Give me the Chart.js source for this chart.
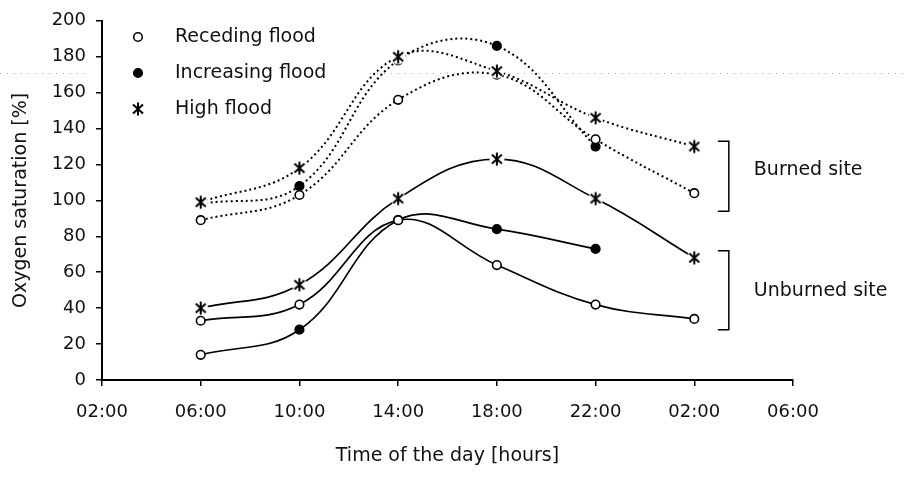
<!DOCTYPE html>
<html lang="en">
<head>
    <meta charset="UTF-8">
    <title>Oxygen saturation</title>
    <script src="https://cdn.jsdelivr.net/npm/chart.js"></script>
    <style>
        html, body { margin: 0; padding: 0; background: #fff; }
        .chart-container { position: relative; width: 905px; height: 479px; }
    </style>
</head>
<body>
    <div class="chart-container">
        <canvas id="oxygen-chart"></canvas>
    </div>

    <script>
        // sampling times in hours since midnight (26 = 02:00 next day)
        const hours = [6, 10, 14, 18, 22, 26];
        const tickLabels = ["02:00", "06:00", "10:00", "14:00", "18:00", "22:00", "02:00", "06:00"];
        const legendLabels = ["Receding flood", "Increasing flood", "High flood"];

        // burned site (dotted lines)
        const burnedReceding = [89, 103, 156, 170, 134, 104];
        const burnedIncreasing = [98, 108, 178, 186, 130, null];
        const burnedHigh = [99, 118, 180, 172, 146, 130];

        // unburned site (solid lines)
        const unburnedReceding = [33, 42, 89, 64, 42, 34];
        const unburnedIncreasing = [14, 28, 89, 84, 73, null];
        const unburnedHigh = [40, 53, 101, 123, 101, 68];

        Chart.defaults.font.family = "'DejaVu Sans', sans-serif";
        Chart.defaults.font.size = 18;
        Chart.defaults.color = "#111";

        // asterisk marker: vertical bar plus X, on a small white patch
        function makeStar() {
            const c = document.createElement("canvas");
            c.width = 16; c.height = 16;
            const g = c.getContext("2d");
            g.fillStyle = "#fff";
            g.beginPath(); g.arc(8, 8, 7.5, 0, Math.PI * 2); g.fill();
            g.strokeStyle = "#000";
            g.lineWidth = 2;
            g.beginPath();
            g.moveTo(8, 1.5); g.lineTo(8, 14.5);
            g.moveTo(3, 3.5); g.lineTo(13, 12.5);
            g.moveTo(13, 3.5); g.lineTo(3, 12.5);
            g.stroke();
            return c;
        }
        const star = makeStar();

        const toPoints = arr => hours.map((h, i) => ({ x: h, y: arr[i] }));

        function series(values, kind, dotted, fillOverride) {
            const ds = {
                data: toPoints(values),
                borderColor: "#000",
                borderWidth: dotted ? 2 : 1.7,
                borderDash: dotted ? [2, 3] : [],
                tension: 0.4,
                spanGaps: false,
                pointRadius: 4.3,
                pointBorderWidth: 1.6,
                pointBorderColor: "#000",
                pointBackgroundColor: kind === "open" ? "#fff" : "#000"
            };
            if (kind === "star") {
                ds.pointStyle = star;
            }
            if (fillOverride) ds.pointBackgroundColor = fillOverride;
            return ds;
        }

        const legendPlugin = {
            id: "cornerLegend",
            afterDraw(chart) {
                const ctx = chart.ctx;
                const kinds = ["open", "filled", "star"];
                ctx.save();
                ctx.font = "19px 'DejaVu Sans', sans-serif";
                ctx.fillStyle = "#111";
                ctx.textBaseline = "middle";
                legendLabels.forEach((label, i) => {
                    const y = 37 + i * 36;
                    const x = 138;
                    if (kinds[i] === "star") {
                        ctx.drawImage(star, x - star.width / 2, y - star.height / 2);
                    } else {
                        ctx.beginPath();
                        ctx.arc(x, y, 4.3, 0, Math.PI * 2);
                        ctx.fillStyle = kinds[i] === "open" ? "#fff" : "#000";
                        ctx.fill();
                        ctx.lineWidth = 1.6;
                        ctx.strokeStyle = "#000";
                        ctx.stroke();
                        ctx.fillStyle = "#111";
                    }
                    ctx.fillText(label, 175, y);
                });
                ctx.restore();
            }
        };

        const bracketPlugin = {
            id: "siteBrackets",
            afterDraw(chart) {
                const ctx = chart.ctx;
                const xs = chart.scales.x, ys = chart.scales.y;
                const brackets = [
                    { text: "Burned site", top: 133, bottom: 94, mid: 117 },
                    { text: "Unburned site", top: 72, bottom: 28, mid: 49.5 }
                ];
                const bx = xs.getPixelForValue(27.4);
                ctx.save();
                ctx.strokeStyle = "#000";
                ctx.lineWidth = 1.5;
                ctx.font = "19px 'DejaVu Sans', sans-serif";
                ctx.fillStyle = "#111";
                ctx.textBaseline = "middle";
                brackets.forEach(b => {
                    const y1 = ys.getPixelForValue(b.top);
                    const y2 = ys.getPixelForValue(b.bottom);
                    ctx.beginPath();
                    ctx.moveTo(bx - 11, y1); ctx.lineTo(bx, y1);
                    ctx.lineTo(bx, y2); ctx.lineTo(bx - 11, y2);
                    ctx.stroke();
                    ctx.fillText(b.text, bx + 25, ys.getPixelForValue(b.mid));
                });
                ctx.restore();
            }
        };

        // faint dotted scan line that runs across the original figure
        const scanLinePlugin = {
            id: "scanLine",
            beforeDraw(chart) {
                const ctx = chart.ctx;
                const y = Math.round(chart.scales.y.getPixelForValue(171)) + 0.5;
                ctx.save();
                ctx.strokeStyle = "#aaa";
                ctx.lineWidth = 1;
                ctx.setLineDash([1, 6]);
                ctx.beginPath();
                ctx.moveTo(0, y); ctx.lineTo(88, y);
                ctx.moveTo(370, y); ctx.lineTo(chart.width, y);
                ctx.stroke();
                ctx.restore();
            }
        };

        const ctx = document.getElementById("oxygen-chart").getContext("2d");
        new Chart(ctx, {
            type: "line",
            data: {
                datasets: [
                    series(burnedHigh, "star", true),
                    series(unburnedHigh, "star", false),
                    series(burnedReceding, "open", true),
                    series(unburnedReceding, "open", false),
                    series(burnedIncreasing, "filled", true),
                    series(unburnedIncreasing, "filled", false,
                        unburnedIncreasing.map((v, i) => i === 0 ? "#fff" : "#000"))
                ]
            },
            options: {
                responsive: true,
                maintainAspectRatio: false,
                animation: false,
                layout: { padding: { top: 16, right: 112, left: 0, bottom: 0 } },
                plugins: {
                    legend: { display: false },
                    tooltip: { enabled: false }
                },
                scales: {
                    x: {
                        type: "linear",
                        min: 2,
                        max: 30,
                        afterFit: s => { s.height = 99; },
                        ticks: {
                            stepSize: 4,
                            color: "#111",
                            padding: 16,
                            maxRotation: 0,
                            callback: v => tickLabels[(v - 2) / 4]
                        },
                        grid: {
                            drawOnChartArea: false,
                            drawTicks: true,
                            tickLength: 6,
                            color: "#000",
                            lineWidth: 1.5
                        },
                        border: { display: true, color: "#000", width: 2 },
                        title: {
                            display: true,
                            text: "Time of the day [hours]",
                            color: "#111",
                            font: { size: 19 },
                            padding: { top: 4, bottom: 12 }
                        }
                    },
                    y: {
                        min: 0,
                        max: 200,
                        afterFit: s => { s.width = 102; },
                        ticks: {
                            stepSize: 20,
                            color: "#111",
                            padding: 10
                        },
                        grid: {
                            drawOnChartArea: false,
                            drawTicks: true,
                            tickLength: 6,
                            color: "#000",
                            lineWidth: 1.5
                        },
                        border: { display: true, color: "#000", width: 2 },
                        title: {
                            display: true,
                            text: "Oxygen saturation [%]",
                            color: "#111",
                            font: { size: 19 },
                            padding: { top: 10, bottom: 4 }
                        }
                    }
                }
            },
            plugins: [scanLinePlugin, legendPlugin, bracketPlugin]
        });
    </script>
</body>
</html>
